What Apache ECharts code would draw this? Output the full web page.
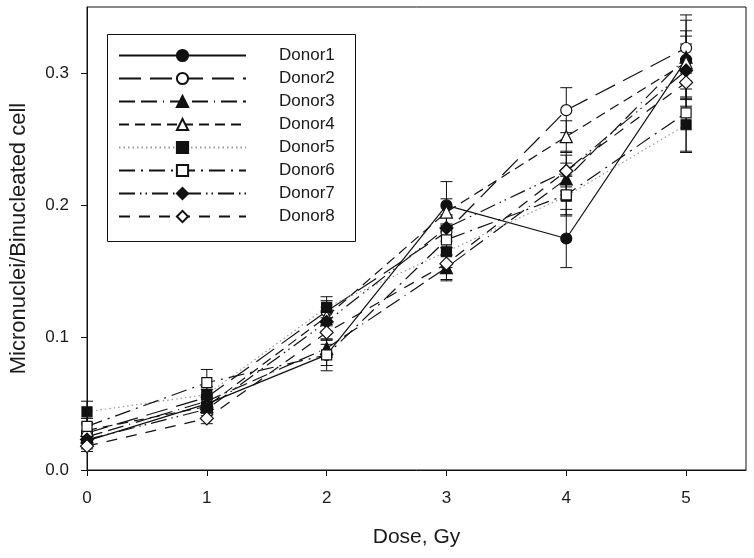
<!DOCTYPE html>
<html>
<head>
<meta charset="utf-8">
<script src="https://cdn.jsdelivr.net/npm/echarts@6/dist/echarts.min.js"></script>
<style>html,body{margin:0;padding:0;background:#fff}#c{width:754px;height:558px}</style>
</head>
<body>
<div id="c"></div>
<script>
var doses = [0, 1, 2, 3, 4, 5];
var xTicks = [0, 1, 2, 3, 4, 5];
var yTicks = [0, 0.1, 0.2, 0.3];
var names = ['Donor1','Donor2','Donor3','Donor4','Donor5','Donor6','Donor7','Donor8'];

var donor1 = [0.022, 0.050, 0.087, 0.200, 0.175, 0.310];
var donor2 = [0.028, 0.055, 0.120, 0.180, 0.272, 0.319];
var donor3 = [0.025, 0.052, 0.092, 0.153, 0.220, 0.312];
var donor4 = [0.030, 0.048, 0.116, 0.195, 0.252, 0.308];
var donor5 = [0.044, 0.057, 0.123, 0.165, 0.207, 0.261];
var donor6 = [0.033, 0.066, 0.087, 0.174, 0.208, 0.270];
var donor7 = [0.023, 0.046, 0.112, 0.183, 0.226, 0.302];
var donor8 = [0.018, 0.039, 0.104, 0.156, 0.226, 0.293];

var err1 = [0.006, 0.005, 0.008, 0.018, 0.022, 0.030];
var err2 = [0.006, 0.006, 0.008, 0.012, 0.017, 0.025];
var err3 = [0.005, 0.005, 0.007, 0.010, 0.012, 0.020];
var err4 = [0.005, 0.005, 0.007, 0.010, 0.012, 0.020];
var err5 = [0.008, 0.006, 0.008, 0.012, 0.015, 0.020];
var err6 = [0.006, 0.010, 0.012, 0.012, 0.015, 0.030];
var err7 = [0.005, 0.005, 0.007, 0.010, 0.012, 0.020];
var err8 = [0.004, 0.004, 0.006, 0.012, 0.015, 0.018];

var values = [donor1, donor2, donor3, donor4, donor5, donor6, donor7, donor8];
var errs = [err1, err2, err3, err4, err5, err6, err7, err8];

var K = '#111';
var FONT = 'Liberation Sans, Arial, sans-serif';
var styles = [
  {symbol:'circle', fill:K, dash:'solid', color:K, size:11},
  {symbol:'circle', fill:'#fff', dash:[22,9], color:K, size:11},
  {symbol:'triangle', fill:K, dash:[16,6,16,6,1,6], color:K, size:12},
  {symbol:'triangle', fill:'#fff', dash:[10,6], color:K, size:12},
  {symbol:'rect', fill:K, dash:[1.5,3], color:'#999', size:10},
  {symbol:'rect', fill:'#fff', dash:[16,6,2,6], color:K, size:10},
  {symbol:'diamond', fill:K, dash:[16,5,1.5,4,1.5,5], color:K, size:13},
  {symbol:'diamond', fill:'#fff', dash:[11,9], color:K, size:13}
];

var series = [];
values.forEach(function (v, k) {
  var e = errs[k];
  series.push({
    type: 'custom', name: 'err' + k, silent: true, z: 1,
    encode: {x: 0, y: [1, 2]},
    data: doses.map(function (d, i) { return [d, v[i] - e[i], v[i] + e[i]]; }),
    renderItem: function (params, api) {
      var x = api.value(0);
      var lo = api.coord([x, api.value(1)]);
      var hi = api.coord([x, api.value(2)]);
      var w = 6;
      var st = {stroke: K, lineWidth: 1};
      return {type: 'group', children: [
        {type: 'line', shape: {x1: lo[0], y1: lo[1], x2: hi[0], y2: hi[1]}, style: st},
        {type: 'line', shape: {x1: lo[0] - w, y1: lo[1], x2: lo[0] + w, y2: lo[1]}, style: st},
        {type: 'line', shape: {x1: hi[0] - w, y1: hi[1], x2: hi[0] + w, y2: hi[1]}, style: st}
      ]};
    }
  });
});
values.forEach(function (v, k) {
  var s = styles[k];
  series.push({
    type: 'line', name: names[k], z: 3 + k,
    data: doses.map(function (d, i) { return [d, v[i]]; }),
    symbol: s.symbol, symbolSize: s.size, showAllSymbol: true,
    lineStyle: {color: s.color, width: 1.2, type: s.dash},
    itemStyle: {color: s.fill, borderColor: K, borderWidth: 1.2},
    emphasis: {disabled: true}
  });
});

var chart = echarts.init(document.getElementById('c'), null, {renderer: 'canvas'});
chart.setOption({
  animation: false,
  backgroundColor: '#fff',
  grid: {left: 86, right: 8, top: 7, bottom: 88, show: true, borderColor: K, borderWidth: 1, containLabel: false},
  xAxis: {
    type: 'value', min: 0, max: 5.5,
    name: 'Dose, Gy', nameLocation: 'middle', nameGap: 57,
    nameTextStyle: {fontFamily: FONT, fontSize: 21, color: '#1a1a1a'},
    axisLine: {show: true, onZero: false, lineStyle: {color: K, width: 1}},
    axisTick: {show: true, length: 6, customValues: xTicks, lineStyle: {color: K}},
    axisLabel: {customValues: xTicks, margin: 20, fontFamily: FONT, fontSize: 17, color: '#1a1a1a'},
    splitLine: {show: false}
  },
  yAxis: {
    type: 'value', min: 0, max: 0.35,
    name: 'Micronuclei/Binucleated cell', nameLocation: 'middle', nameGap: 57,
    nameTextStyle: {fontFamily: FONT, fontSize: 22, color: '#1a1a1a'},
    axisLine: {show: true, onZero: false, lineStyle: {color: K, width: 1}},
    axisTick: {show: true, length: 6, customValues: yTicks, lineStyle: {color: K}},
    axisLabel: {customValues: yTicks, margin: 18, fontFamily: FONT, fontSize: 17, color: '#1a1a1a',
      formatter: function (v) { return v.toFixed(1); }},
    splitLine: {show: false}
  },
  legend: {
    data: names, orient: 'vertical', left: 118, top: 47, padding: 0,
    itemWidth: 127, itemHeight: 14, itemGap: 6,
    selectedMode: false,
    textStyle: {fontFamily: FONT, fontSize: 17, lineHeight: 17, color: '#1a1a1a', padding: [0, 0, 0, 28]}
  },
  graphic: [{
    type: 'rect', left: 105, top: 32, z: 0,
    shape: {width: 248, height: 207},
    style: {fill: 'none', stroke: K, lineWidth: 1}
  }],
  series: series
});
</script>
</body>
</html>
